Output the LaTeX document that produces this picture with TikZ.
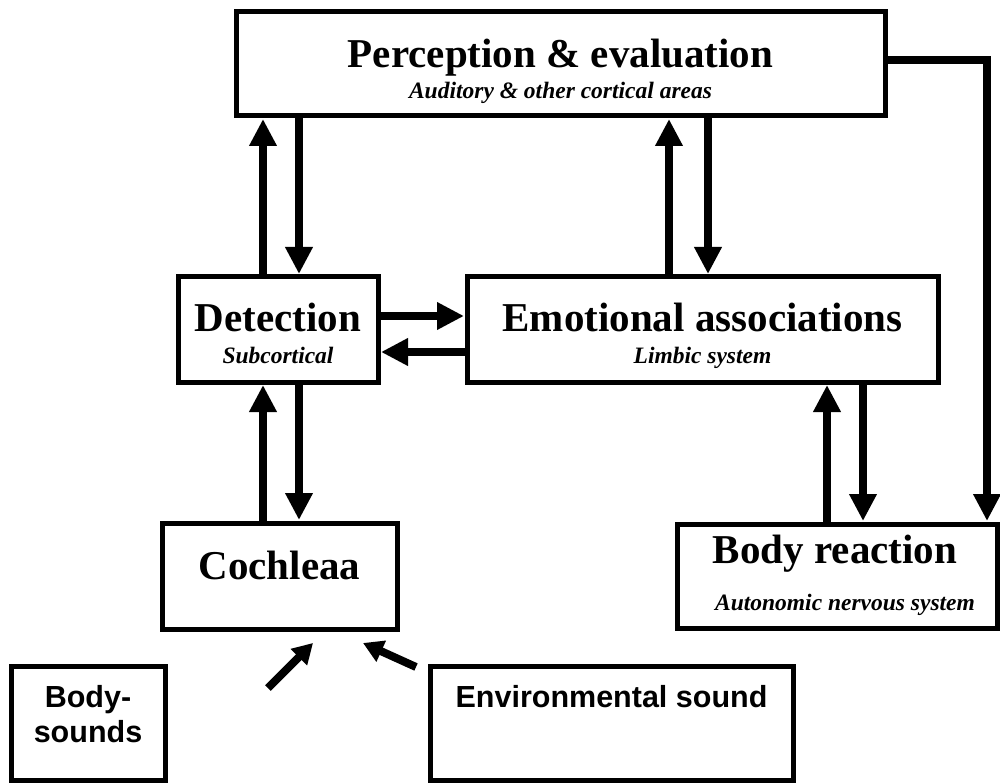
\documentclass[tikz,border=0pt]{standalone}
\usepackage{fontspec}
\setmainfont{Liberation Serif}
\setsansfont{Liberation Sans}
\usetikzlibrary{arrows.meta}
\begin{document}
\begin{tikzpicture}[x=1pt,y=-1pt,
  box/.style={draw, line width=5pt, rectangle, inner sep=0pt, outer sep=0pt},
  arr/.style={line width=8pt, line join=miter, -{Triangle[width=26pt,length=27pt]}, shorten >=3pt},
  darr/.style={line width=8pt, -{Triangle[width=22pt,length=20pt]}},
  ttl/.style={anchor=base, inner sep=0pt, font=\fontsize{41}{41}\selectfont\bfseries},
  subt/.style={anchor=base, inner sep=0pt, font=\fontsize{23.5}{23.5}\selectfont\bfseries\itshape},
  sanslbl/.style={anchor=base, inner sep=0pt, font=\fontsize{30.5}{30.5}\selectfont\sffamily\bfseries}]
\useasboundingbox (0,0) rectangle (1000,783);

% boxes
\node[box, minimum width=649pt, minimum height=104pt] (perc) at (560.5,64) {};
\node[box, minimum width=200pt, minimum height=105pt] (det) at (278,329.5) {};
\node[box, minimum width=471pt, minimum height=105pt] (emo) at (702.5,329.5) {};
\node[box, minimum width=235pt, minimum height=106pt] (coch) at (279.5,576) {};
\node[box, minimum width=320pt, minimum height=104pt] (body) at (837,576) {};
\node[box, minimum width=154pt, minimum height=114pt] (bs) at (88,723) {};
\node[box, minimum width=363pt, minimum height=114pt] (env) at (611.5,723) {};

% texts
\node[ttl] (percT) at (560.5,68) {Perception \& evaluation};
\node[subt] (percS) at (560.5,99) {Auditory \& other cortical areas};
\node[ttl] (detT) at (278,331) {Detection};
\node[subt] (detS) at (278,363) {Subcortical};
\node[ttl] (emoT) at (702.5,331) {Emotional associations};
\node[subt] (emoS) at (702.5,363) {Limbic system};
\node[ttl] (cochT) at (279.5,579) {Cochleaa};
\node[ttl] (bodyT) at (835,563) {Body reaction};
\node[subt] (bodyS) at (845,610) {Autonomic nervous system};
\node[sanslbl] (bsT1) at (88,707) {Body-};
\node[sanslbl] (bsT2) at (88,742) {sounds};
\node[sanslbl] (envT) at (611.5,707) {Environmental sound};

% arrow columns / rows
\coordinate (c1) at (263,0);
\coordinate (c2) at (299,0);
\coordinate (c3) at (669,0);
\coordinate (c4) at (708,0);
\coordinate (c5) at (827,0);
\coordinate (c6) at (863,0);
\coordinate (r1) at (0,316);
\coordinate (r2) at (0,352);
\coordinate (fb) at (987,60);

\draw[arr] (c1 |- det.north) -- (c1 |- perc.south);
\draw[arr] (c2 |- perc.south) -- (c2 |- det.north);
\draw[arr] (c3 |- emo.north) -- (c3 |- perc.south);
\draw[arr] (c4 |- perc.south) -- (c4 |- emo.north);
\draw[arr] (det.east |- r1) -- (emo.west |- r1);
\draw[arr] (emo.west |- r2) -- (det.east |- r2);
\draw[arr] (c1 |- coch.north) -- (c1 |- det.south);
\draw[arr] (c2 |- det.south) -- (c2 |- coch.north);
\draw[arr] (c5 |- body.north) -- (c5 |- emo.south);
\draw[arr] (c6 |- emo.south) -- (c6 |- body.north);
\draw[arr] (perc.east |- fb) -- (fb) -- (fb |- body.north);

% diagonal inputs
\coordinate (d1s) at (268,688);
\coordinate (d1e) at (313,643);
\coordinate (d2s) at (416,667);
\coordinate (d2e) at (363,643);
\draw[darr] (d1s) -- (d1e);
\draw[darr] (d2s) -- (d2e);
\end{tikzpicture}
\end{document}
